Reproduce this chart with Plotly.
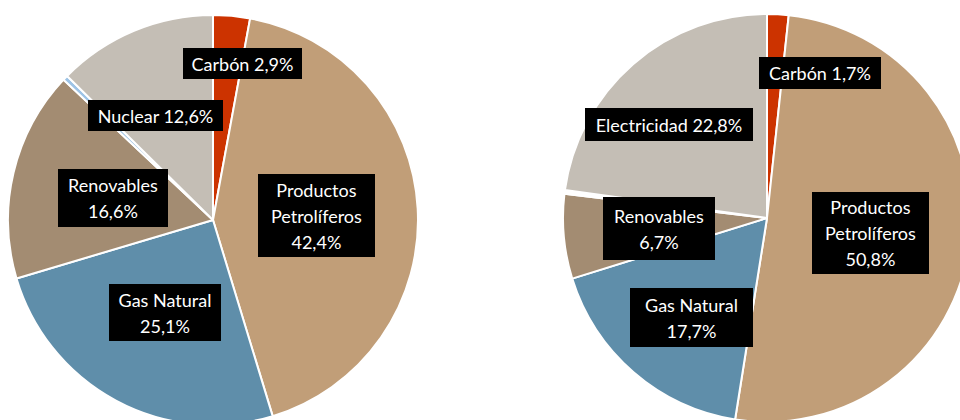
import plotly.graph_objects as go

# ---- data ----
left_labels = ["Carbón", "Productos Petrolíferos", "Gas Natural", "Renovables", "Otros", "Nuclear"]
left_values = [2.9, 42.4, 25.1, 16.6, 0.4, 12.6]
right_labels = ["Carbón", "Productos Petrolíferos", "Gas Natural", "Renovables", "Otros", "Electricidad"]
right_values = [1.7, 50.8, 17.7, 6.7, 0.3, 22.8]

# label texts (shown in boxes)
left_text = ["Carbón 2,9%", "Productos<br>Petrolíferos<br>42,4%", "Gas Natural<br>25,1%",
             "Renovables<br>16,6%", None, "Nuclear 12,6%"]
right_text = ["Carbón 1,7%", "Productos<br>Petrolíferos<br>50,8%", "Gas Natural<br>17,7%",
              "Renovables<br>6,7%", None, "Electricidad 22,8%"]

# ---- style / layout ----
W, H = 980, 430
left_colors = ["#CC3300", "#C19E78", "#5F8EAA", "#A38C72", "#9DC3E6", "#C4BEB5"]
right_colors = ["#CC3300", "#C19E78", "#5F8EAA", "#A38C72", "#FFFFFF", "#C4BEB5"]

# pie boxes in pixels (x0, x1, ytop, ybottom)
left_box = (8, 418, 15, 425)
right_box = (563, 971, 14, 422)

# label box centers/sizes in pixels: (cx, cy, w, h)
left_lab = [(242.5, 63.5, 119, 31), (316.5, 215.5, 117, 83), (165, 312.5, 112, 57),
            (113, 198, 110, 58), None, (155.5, 115.5, 135, 31)]
right_lab = [(820, 73, 122, 32), (870.5, 233, 117, 82), (691.5, 317.5, 123, 59),
             (659, 228.5, 112, 63), None, (669, 124.5, 168, 33)]


def dom(b):
    x0, x1, yt, yb = b
    return dict(x=[x0 / W, x1 / W], y=[(H - yb) / H, (H - yt) / H])


fig = go.Figure()
for labels, values, colors, box in [(left_labels, left_values, left_colors, left_box),
                                    (right_labels, right_values, right_colors, right_box)]:
    fig.add_trace(go.Pie(
        labels=labels, values=values, sort=False, direction="clockwise", rotation=0,
        marker=dict(colors=colors, line=dict(color="white", width=2)),
        textinfo="none", domain=dom(box), showlegend=False,
    ))

annotations = []
for texts, labs in [(left_text, left_lab), (right_text, right_lab)]:
    for t, lab in zip(texts, labs):
        if t is None:
            continue
        cx, cy, w, h = lab
        annotations.append(dict(
            x=cx / W, y=1 - cy / H, xref="paper", yref="paper",
            xanchor="center", yanchor="middle", showarrow=False,
            text='<span style="font-size:18px">' + t + '</span>',
            font=dict(family="Lato, Open Sans, sans-serif", size=20, color="white"),
            bgcolor="black", borderpad=0, borderwidth=0, width=w, height=h,
            align="center", valign="middle",
        ))

fig.update_layout(
    width=W, height=H, margin=dict(l=0, r=0, t=0, b=0),
    paper_bgcolor="white", plot_bgcolor="white",
    annotations=annotations,
)

fig.write_html("out.html", config={"displayModeBar": False},
               post_script="document.body.style.margin='0';document.body.style.overflow='hidden';document.documentElement.style.overflow='hidden';")
